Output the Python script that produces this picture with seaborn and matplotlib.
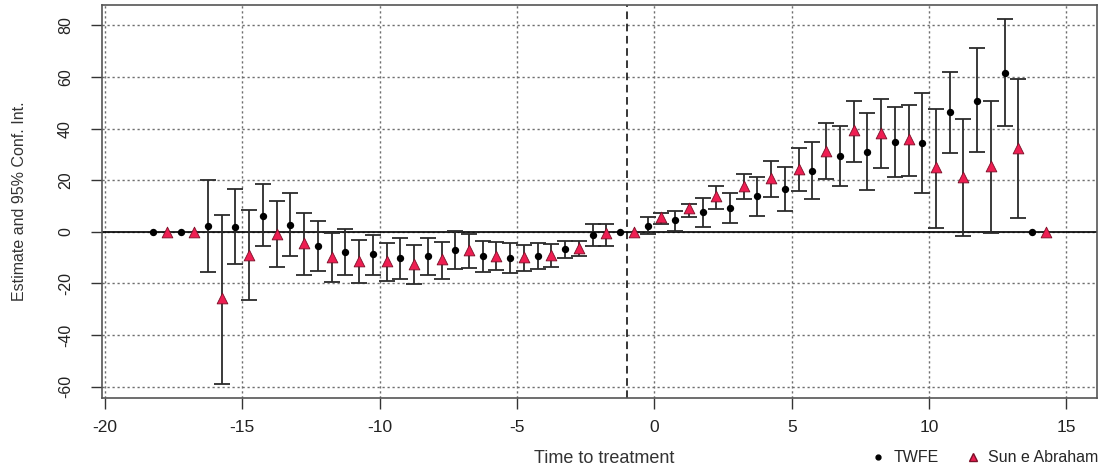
import numpy as np
import pandas as pd
import matplotlib
matplotlib.use("Agg")
import matplotlib.pyplot as plt
from matplotlib.lines import Line2D
import seaborn as sns

# relative time to treatment
periods = list(range(-18, 15))

# TWFE estimates and 95% CI (NaN = reference / no interval)
twfe_est = [0, 0, 2.2, 1.8, 6.3, 2.7, -5.4, -7.9, -8.6, -10.3, -9.4, -7.1, -9.4, -10.3,
            -9.4, -6.7, -1.3, 0, 2.3, 4.5, 7.5, 9.3, 13.8, 16.6, 23.5, 29.3, 31.0, 34.7,
            34.3, 46.3, 50.8, 61.6, 0]
twfe_hi = [np.nan, np.nan, 20.0, 16.4, 18.4, 14.9, 4.3, 0.9, -1.3, -2.3, -2.3, 0.3, -3.5,
           -4.5, -4.5, -3.5, 3.2, np.nan, 5.8, 8.1, 13.2, 14.9, 21.3, 25.2, 34.7, 41.1,
           45.9, 48.4, 53.6, 62.0, 71.1, 82.3, np.nan]
twfe_lo = [np.nan, np.nan, -15.5, -12.3, -5.4, -9.4, -15.1, -16.8, -16.8, -18.1, -16.8,
           -14.5, -15.5, -15.9, -14.5, -10.3, -5.4, np.nan, -0.9, 0.2, 1.9, 3.5, 6.2, 8.0,
           12.6, 17.7, 16.2, 21.3, 14.9, 30.6, 31.0, 41.1, np.nan]

# Sun & Abraham estimates and 95% CI
sa_est = [0, 0, -25.8, -9.0, -0.9, -4.5, -9.7, -11.2, -11.2, -12.3, -10.7, -7.1, -9.3,
          -9.9, -8.8, -6.2, -0.6, 0, 5.8, 9.1, 13.8, 17.8, 20.9, 24.3, 31.4, 39.4, 38.4,
          35.8, 25.0, 21.3, 25.6, 32.3, 0]
sa_hi = [np.nan, np.nan, 6.6, 8.3, 11.9, 7.1, -0.6, -3.0, -4.3, -5.2, -3.9, -1.0, -3.9,
         -5.2, -4.9, -3.5, 3.2, np.nan, 7.4, 10.7, 17.8, 22.4, 27.4, 32.3, 42.0, 50.8,
         51.3, 49.1, 47.6, 43.6, 50.8, 59.2, np.nan]
sa_lo = [np.nan, np.nan, -58.8, -26.5, -13.8, -16.8, -19.6, -20.0, -19.2, -20.4, -18.1,
         -13.9, -14.8, -15.1, -13.6, -9.4, -5.4, np.nan, 2.9, 5.8, 8.8, 12.6, 13.6, 15.8,
         20.3, 27.1, 24.6, 21.7, 1.3, -1.7, -0.4, 5.2, np.nan]

x_ticks = [-20, -15, -10, -5, 0, 5, 10, 15]
y_ticks = [-60, -40, -20, 0, 20, 40, 60, 80]

# long table, each method dodged a quarter period
df = pd.concat([
    pd.DataFrame({"t": periods, "est": twfe_est, "lo": twfe_lo, "hi": twfe_hi,
                  "method": "TWFE", "offset": -0.25}),
    pd.DataFrame({"t": periods, "est": sa_est, "lo": sa_lo, "hi": sa_hi,
                  "method": "Sun e Abraham", "offset": 0.25}),
], ignore_index=True)
df["x"] = df["t"] + df["offset"]

sns.set_style("white")
plt.rcParams["font.family"] = ["Liberation Sans", "DejaVu Sans"]

fig, ax = plt.subplots(figsize=(11.02, 4.71), dpi=100)
fig.subplots_adjust(left=0.0928, right=0.9952, bottom=0.1556, top=0.9894)

# grid, zero line and treatment line
for v in x_ticks:
    ax.axvline(v, color="#6e6e6e", lw=1.0, ls=(0, (1.6, 2)), zorder=0)
for v in y_ticks:
    ax.axhline(v, color="#6e6e6e", lw=1.0, ls=(0, (1.6, 2)), zorder=0)
ax.axhline(0, color="black", lw=1.2, zorder=1)
ax.axvline(-1, color="black", lw=1.1, ls=(0, (5, 3)), zorder=1)

# confidence intervals
ci = df.dropna(subset=["lo", "hi"])
ax.errorbar(ci["x"], ci["est"], yerr=[ci["est"] - ci["lo"], ci["hi"] - ci["est"]],
            fmt="none", ecolor="#2b2b2b", elinewidth=1.3, capsize=5.5, capthick=1.3,
            zorder=2)

# point estimates
sns.scatterplot(data=df[df["method"] == "TWFE"], x="x", y="est", color="black",
                marker="o", s=28, edgecolor="black", linewidth=0, ax=ax, zorder=3,
                legend=False)
sns.scatterplot(data=df[df["method"] == "Sun e Abraham"], x="x", y="est",
                color="#EE1E52", marker="^", s=60, edgecolor="#7a1028", linewidth=0.6,
                ax=ax, zorder=3, legend=False)

ax.set_xlim(-20.1, 16.1)
ax.set_ylim(-64.3, 87.9)
ax.set_xticks(x_ticks)
ax.set_yticks(y_ticks)
ax.set_xticklabels([str(v) for v in x_ticks], fontsize=12.5, color="#222222")
ax.set_yticklabels([str(v) for v in y_ticks], fontsize=11.5, color="#222222",
                   rotation=90, va="center")
ax.tick_params(axis="both", direction="out", length=8, width=1, color="#333333",
               bottom=True, left=True)
ax.tick_params(axis="x", pad=8)
ax.tick_params(axis="y", pad=13)

for s in ax.spines.values():
    s.set_color("#555555")
    s.set_linewidth(1.2)

ax.set_xlabel("Time to treatment", fontsize=13, color="#333333")
ax.set_ylabel("Estimate and 95% Conf. Int.", fontsize=11.5, color="#333333")
ax.xaxis.set_label_coords(0.505, -0.133)
ax.yaxis.set_label_coords(-0.076, 0.5)

handles = [
    Line2D([], [], ls="none", marker="o", color="black", markersize=3.5),
    Line2D([], [], ls="none", marker="^", markerfacecolor="#EE1E52",
           markeredgecolor="#7a1028", markersize=5.5),
]
fig.legend(handles, ["TWFE", "Sun e Abraham"], loc="center right",
           bbox_to_anchor=(1.01, 0.028), ncol=2, frameon=False, fontsize=11.5,
           handletextpad=0.35, columnspacing=1.55, handlelength=1.2)

plt.savefig("out.png", dpi=100)
